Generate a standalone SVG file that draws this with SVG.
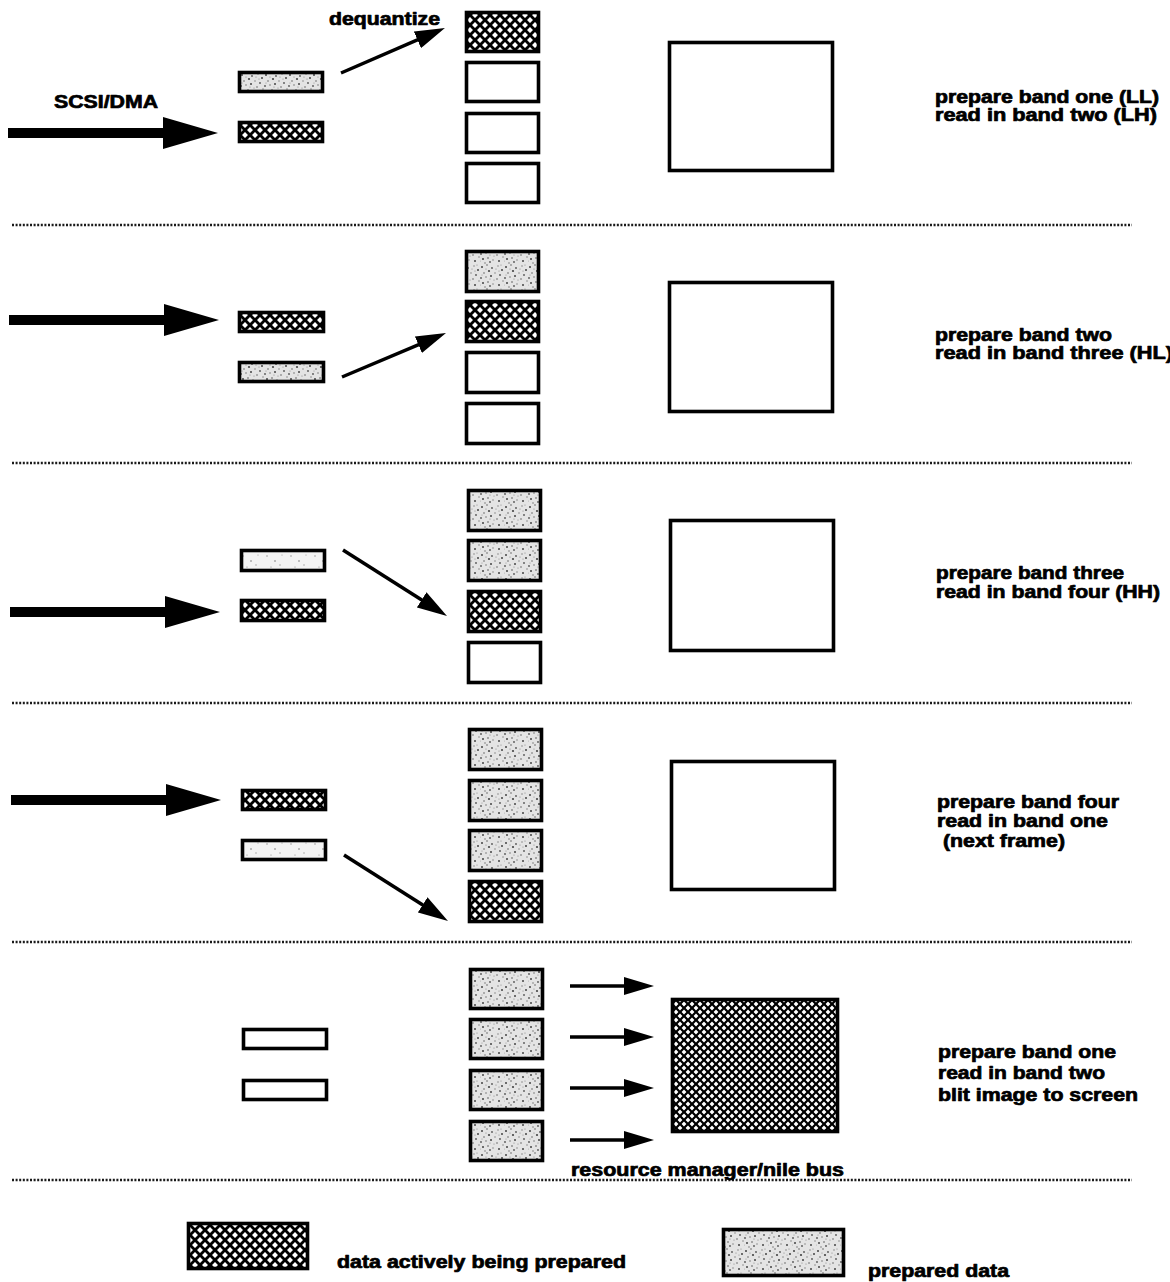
<svg xmlns="http://www.w3.org/2000/svg" xmlns:xlink="http://www.w3.org/1999/xlink" width="1170" height="1282" viewBox="0 0 1170 1282">
<style>
.box{stroke:#000;stroke-width:3.6}
.white{fill:#fff}
.hatch{fill:url(#hatch)}
.hatchF{fill:url(#hatchFine)}
.speck{fill:url(#speck)}
.light{fill:url(#speckLight)}
.lbl{font-family:"Liberation Sans",Arial,Helvetica,sans-serif;font-weight:bold;font-size:17.5px;fill:#000;stroke:#000;stroke-width:0.7;stroke-linejoin:round}
.dots{stroke:#1a1a1a;stroke-width:2.4;stroke-dasharray:2 1.6;fill:none}
.conn{stroke:#000;stroke-width:3.5;fill:none;marker-end:url(#head)}
.big{fill:#000}
</style>
<defs>
<pattern id="hatch" width="10" height="10" patternUnits="userSpaceOnUse">
<rect width="10" height="10" fill="#000"/>
<path d="M5,2L8,5L5,8L2,5Z M0,0H3L0,3Z M10,0H7L10,3Z M0,10H3L0,7Z M10,10H7L10,7Z" fill="#fff"/>
</pattern>
<pattern id="hatchFine" href="#hatch" xlink:href="#hatch" patternTransform="scale(0.8)"/>
<pattern id="speck" width="24" height="24" patternUnits="userSpaceOnUse">
<rect width="24" height="24" fill="#e4e4e4"/>
<g>
<circle cx="2" cy="3" r="1" fill="#444"/><circle cx="7" cy="1" r="0.8" fill="#666"/><circle cx="12" cy="4" r="0.9" fill="#555"/><circle cx="18" cy="2" r="0.7" fill="#777"/><circle cx="22" cy="6" r="1" fill="#444"/>
<circle cx="4" cy="9" r="0.8" fill="#666"/><circle cx="9" cy="7" r="1.1" fill="#444"/><circle cx="15" cy="9" r="0.7" fill="#777"/><circle cx="20" cy="11" r="0.9" fill="#555"/><circle cx="1" cy="14" r="0.9" fill="#555"/>
<circle cx="6" cy="13" r="0.8" fill="#777"/><circle cx="11" cy="12" r="1" fill="#444"/><circle cx="17" cy="15" r="0.8" fill="#666"/><circle cx="23" cy="17" r="0.7" fill="#777"/><circle cx="3" cy="19" r="1" fill="#444"/>
<circle cx="8" cy="18" r="0.8" fill="#555"/><circle cx="13" cy="20" r="0.7" fill="#777"/><circle cx="19" cy="21" r="1" fill="#444"/><circle cx="5" cy="23" r="0.7" fill="#666"/><circle cx="10" cy="22" r="0.9" fill="#555"/>
<circle cx="14" cy="16" r="0.6" fill="#888"/><circle cx="21" cy="1" r="0.6" fill="#888"/><circle cx="16" cy="5" r="0.6" fill="#888"/><circle cx="0" cy="21" r="0.6" fill="#888"/><circle cx="10" cy="15" r="0.6" fill="#888"/>
<circle cx="6" cy="5" r="0.6" fill="#888"/><circle cx="19" cy="7" r="0.5" fill="#777"/><circle cx="2" cy="11" r="0.5" fill="#888"/>
</g>
</pattern>
<pattern id="speckLight" width="24" height="24" patternUnits="userSpaceOnUse">
<rect width="24" height="24" fill="#f3f3f3"/>
<circle cx="3" cy="4" r="0.7" fill="#888"/><circle cx="11" cy="9" r="0.8" fill="#777"/><circle cx="18" cy="3" r="0.6" fill="#999"/><circle cx="7" cy="15" r="0.6" fill="#888"/><circle cx="16" cy="13" r="0.7" fill="#999"/><circle cx="21" cy="19" r="0.6" fill="#888"/><circle cx="2" cy="21" r="0.6" fill="#999"/><circle cx="12" cy="20" r="0.7" fill="#888"/>
</pattern>
<marker id="head" viewBox="0 0 30 18" refX="10" refY="9" markerWidth="30" markerHeight="18" markerUnits="userSpaceOnUse" orient="auto">
<path d="M0,0L30,9L0,18Z" fill="#000"/>
</marker>
<path id="bigArrow" d="M-210,-5H-55V-16L0,0L-55,16V5H-210Z"/>
</defs>
<rect width="1170" height="1282" fill="#fff"/>

<g id="separators">
<line class="dots" x1="12" y1="225" x2="1132" y2="225"/>
<line class="dots" x1="12" y1="463" x2="1132" y2="463"/>
<line class="dots" x1="12" y1="703" x2="1132" y2="703"/>
<line class="dots" x1="12" y1="942" x2="1132" y2="942"/>
<line class="dots" x1="12" y1="1180" x2="1132" y2="1180"/>
</g>

<g id="connectors">
<use href="#bigArrow" xlink:href="#bigArrow" class="big" x="218" y="133"/>
<use href="#bigArrow" xlink:href="#bigArrow" class="big" x="219" y="320"/>
<use href="#bigArrow" xlink:href="#bigArrow" class="big" x="220" y="612"/>
<use href="#bigArrow" xlink:href="#bigArrow" class="big" x="221" y="800"/>
<line class="conn" x1="341" y1="73" x2="426.6" y2="35.9"/>
<line class="conn" x1="342" y1="377" x2="427.6" y2="340.8"/>
<line class="conn" x1="343" y1="550" x2="430.1" y2="605.3"/>
<line class="conn" x1="344" y1="855" x2="431.1" y2="910.3"/>
<line class="conn" x1="570" y1="986" x2="634" y2="986"/>
<line class="conn" x1="570" y1="1037" x2="634" y2="1037"/>
<line class="conn" x1="570" y1="1088" x2="634" y2="1088"/>
<line class="conn" x1="570" y1="1140" x2="634" y2="1140"/>
</g>

<g id="labels-left">
<text class="lbl" x="329" y="25" textLength="111" lengthAdjust="spacingAndGlyphs">dequantize</text>
<text class="lbl" x="54" y="108" textLength="104" lengthAdjust="spacingAndGlyphs">SCSI/DMA</text>
<text class="lbl" x="571" y="1176" textLength="273" lengthAdjust="spacingAndGlyphs">resource manager/nile bus</text>
</g>

<g id="row1">
<g id="r1-buf-a"><rect class="box speck" x="239.5" y="72.5" width="83" height="19"/></g>
<g id="r1-buf-b"><rect class="box hatch" x="239.5" y="122.5" width="83" height="19"/></g>
<g id="r1-stack">
<rect class="box hatch" x="466.5" y="12.5" width="72" height="39"/>
<rect class="box white" x="466.5" y="62.5" width="72" height="39"/>
<rect class="box white" x="466.5" y="113.5" width="72" height="39"/>
<rect class="box white" x="466.5" y="163.5" width="72" height="39"/>
</g>
<g id="r1-screen"><rect class="box white" x="669.5" y="42.5" width="163" height="128"/></g>
<g id="r1-text">
<text class="lbl" x="935" y="103" textLength="224" lengthAdjust="spacingAndGlyphs">prepare band one (LL)</text>
<text class="lbl" x="935" y="121" textLength="222" lengthAdjust="spacingAndGlyphs">read in band two (LH)</text>
</g>
</g>

<g id="row2">
<g id="r2-buf-a"><rect class="box hatch" x="239.5" y="312.5" width="84" height="19"/></g>
<g id="r2-buf-b"><rect class="box speck" x="239.5" y="362.5" width="84" height="19"/></g>
<g id="r2-stack">
<rect class="box speck" x="466.5" y="251.5" width="72" height="40"/>
<rect class="box hatch" x="466.5" y="301.5" width="72" height="40"/>
<rect class="box white" x="466.5" y="352.5" width="72" height="40"/>
<rect class="box white" x="466.5" y="403.5" width="72" height="40"/>
</g>
<g id="r2-screen"><rect class="box white" x="669.5" y="282.5" width="163" height="129"/></g>
<g id="r2-text">
<text class="lbl" x="935" y="341" textLength="177" lengthAdjust="spacingAndGlyphs">prepare band two</text>
<text class="lbl" x="935" y="359" textLength="238" lengthAdjust="spacingAndGlyphs">read in band three (HL)</text>
</g>
</g>

<g id="row3">
<g id="r3-buf-a"><rect class="box light" x="241.5" y="550.5" width="83" height="20"/></g>
<g id="r3-buf-b"><rect class="box hatch" x="241.5" y="600.5" width="83" height="20"/></g>
<g id="r3-stack">
<rect class="box speck" x="468.5" y="490.5" width="72" height="40"/>
<rect class="box speck" x="468.5" y="540.5" width="72" height="40"/>
<rect class="box hatch" x="468.5" y="591.5" width="72" height="40"/>
<rect class="box white" x="468.5" y="642.5" width="72" height="40"/>
</g>
<g id="r3-screen"><rect class="box white" x="670.5" y="520.5" width="163" height="130"/></g>
<g id="r3-text">
<text class="lbl" x="936" y="579" textLength="188" lengthAdjust="spacingAndGlyphs">prepare band three</text>
<text class="lbl" x="936" y="598" textLength="224" lengthAdjust="spacingAndGlyphs">read in band four (HH)</text>
</g>
</g>

<g id="row4">
<g id="r4-buf-a"><rect class="box hatch" x="242.5" y="790.5" width="83" height="19"/></g>
<g id="r4-buf-b"><rect class="box light" x="242.5" y="840.5" width="83" height="19"/></g>
<g id="r4-stack">
<rect class="box speck" x="469.5" y="729.5" width="72" height="40"/>
<rect class="box speck" x="469.5" y="780.5" width="72" height="40"/>
<rect class="box speck" x="469.5" y="830.5" width="72" height="40"/>
<rect class="box hatch" x="469.5" y="881.5" width="72" height="40"/>
</g>
<g id="r4-screen"><rect class="box white" x="671.5" y="761.5" width="163" height="128"/></g>
<g id="r4-text">
<text class="lbl" x="937" y="808" textLength="182" lengthAdjust="spacingAndGlyphs">prepare band four</text>
<text class="lbl" x="937" y="827" textLength="171" lengthAdjust="spacingAndGlyphs">read in band one</text>
<text class="lbl" x="943" y="847" textLength="122" lengthAdjust="spacingAndGlyphs">(next frame)</text>
</g>
</g>

<g id="row5">
<g id="r5-buf-a"><rect class="box white" x="243.5" y="1029.5" width="83" height="19"/></g>
<g id="r5-buf-b"><rect class="box white" x="243.5" y="1080.5" width="83" height="19"/></g>
<g id="r5-stack">
<rect class="box speck" x="470.5" y="969.5" width="72" height="39"/>
<rect class="box speck" x="470.5" y="1019.5" width="72" height="39"/>
<rect class="box speck" x="470.5" y="1070.5" width="72" height="39"/>
<rect class="box speck" x="470.5" y="1121.5" width="72" height="39"/>
</g>
<g id="r5-screen"><rect class="box hatchF" x="672.5" y="999.5" width="165" height="132"/></g>
<g id="r5-text">
<text class="lbl" x="938" y="1058" textLength="178" lengthAdjust="spacingAndGlyphs">prepare band one</text>
<text class="lbl" x="938" y="1079" textLength="167" lengthAdjust="spacingAndGlyphs">read in band two</text>
<text class="lbl" x="938" y="1101" textLength="200" lengthAdjust="spacingAndGlyphs">blit image to screen</text>
</g>
</g>

<g id="legend">
<g id="legend-active"><rect class="box hatch" x="188.5" y="1223.5" width="119" height="45"/>
<text class="lbl" x="337" y="1268" textLength="289" lengthAdjust="spacingAndGlyphs">data actively being prepared</text></g>
<g id="legend-prepared"><rect class="box speck" x="723.5" y="1229.5" width="120" height="46"/>
<text class="lbl" x="868" y="1277" textLength="141" lengthAdjust="spacingAndGlyphs">prepared data</text></g>
</g>
</svg>
